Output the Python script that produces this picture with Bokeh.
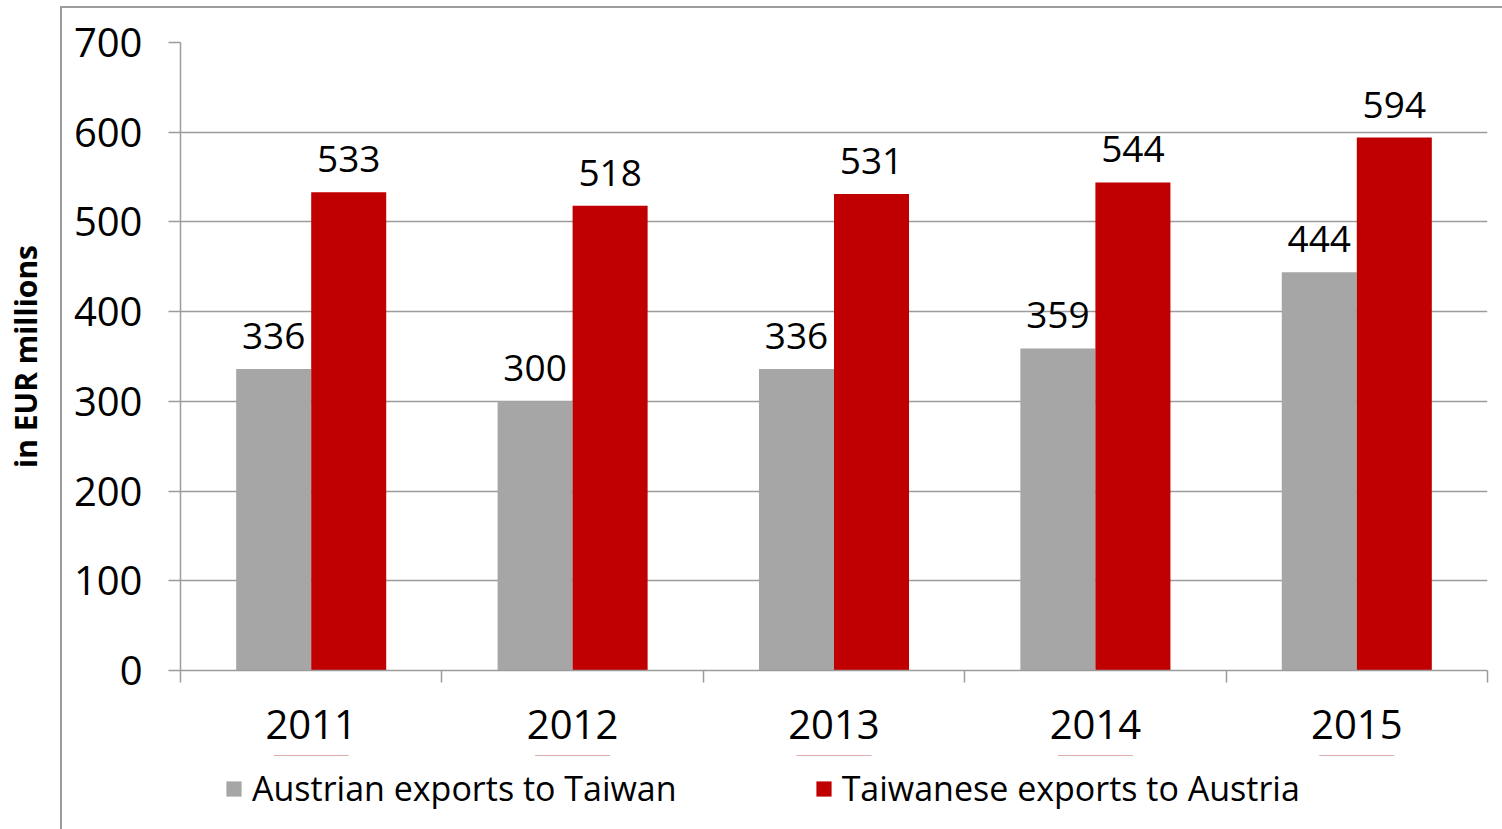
from bokeh.plotting import figure
from bokeh.layouts import column
from bokeh.models import (ColumnDataSource, FactorRange, Range1d, LinearAxis, FixedTicker,
                          Legend, LegendItem)
from bokeh.transform import dodge
from bokeh.core.properties import value
from bokeh.embed import file_html
from bokeh.resources import INLINE

years = ["2011", "2012", "2013", "2014", "2015"]
austrian = [336, 300, 336, 359, 444]
taiwanese = [533, 518, 531, 544, 594]
series_names = ["Austrian exports to Taiwan", "Taiwanese exports to Austria"]
y_ticks = [0, 100, 200, 300, 400, 500, 600, 700]
y_label = "in EUR millions"

FONT = "Open Sans"
GREY = "#A6A6A6"
RED = "#C00000"
LINE = "#9C9C9C"

src = ColumnDataSource(dict(
    year=years, austrian=austrian, taiwanese=taiwanese,
    a_lbl=[str(v) for v in austrian], t_lbl=[str(v) for v in taiwanese],
))

# ---------------- main chart ----------------
x_range = FactorRange(factors=years, range_padding=0)
p = figure(width=1502, height=755,
           x_range=x_range,
           y_range=Range1d(y_ticks[0], y_ticks[-1]),
           x_axis_location=None, y_axis_location="left",
           output_backend="svg", toolbar_location=None,
           min_border_left=180, min_border_right=15,
           min_border_top=42, min_border_bottom=85)
p.outline_line_color = None
p.background_fill_color = "white"
p.border_fill_color = None

bw = 0.287
r1 = p.vbar(x=dodge("year", -bw / 2, range=x_range), top="austrian", width=bw,
            source=src, fill_color=GREY, line_color=None)
r2 = p.vbar(x=dodge("year", bw / 2, range=x_range), top="taiwanese", width=bw,
            source=src, fill_color=RED, line_color=None)

for col, lbl, off in (("austrian", "a_lbl", -bw / 2), ("taiwanese", "t_lbl", bw / 2)):
    p.text(x=dodge("year", off, range=x_range), y=col, text=lbl, source=src,
           text_align="center", text_baseline="alphabetic", y_offset=-33,
           text_font=value(FONT), text_font_size="37px", text_color="black")

ya = p.yaxis[0]
ya.ticker = FixedTicker(ticks=y_ticks)
ya.axis_line_color = LINE
ya.axis_line_width = 1.5
ya.major_tick_line_color = LINE
ya.major_tick_line_width = 1.5
ya.major_tick_out = 12
ya.major_tick_in = 0
ya.minor_tick_line_color = None
ya.major_label_standoff = 26
ya.major_label_text_font = FONT
ya.major_label_text_font_size = "40px"
ya.major_label_text_color = "black"
ya.axis_label = y_label
ya.axis_label_text_font = FONT
ya.axis_label_text_font_size = "30px"
ya.axis_label_text_font_style = "bold"
ya.axis_label_text_color = "black"
ya.axis_label_standoff = 25

p.ygrid.ticker = FixedTicker(ticks=y_ticks)
p.ygrid.grid_line_color = LINE
p.ygrid.grid_line_width = 1.5
p.xgrid.grid_line_color = None

# x axis: ticks at category boundaries, labels at centers (synthetic factor coords)
xa = LinearAxis(ticker=FixedTicker(ticks=[i + 0.5 for i in range(len(years))],
                                   minor_ticks=list(range(len(years) + 1))),
                major_label_overrides={i + 0.5: y for i, y in enumerate(years)})
xa.axis_line_color = LINE
xa.axis_line_width = 1.5
xa.major_tick_line_color = None
xa.major_tick_out = 0
xa.major_tick_in = 0
xa.minor_tick_line_color = LINE
xa.minor_tick_line_width = 1.5
xa.minor_tick_out = 12
xa.minor_tick_in = 0
xa.major_label_standoff = 27
xa.major_label_text_font = FONT
xa.major_label_text_font_size = "40px"
xa.major_label_text_color = "black"
p.add_layout(xa, "below")

# ---------------- legend strip ----------------
# same series drawn in a strip whose y range hides the bars; only the legend shows
pl = figure(width=1502, height=74, x_range=x_range, y_range=Range1d(-2, -1),
            x_axis_location=None, y_axis_location=None,
            output_backend="svg", toolbar_location=None, min_border=0)
pl.outline_line_color = None
pl.background_fill_color = None
pl.border_fill_color = None
pl.xgrid.grid_line_color = None
pl.ygrid.grid_line_color = None
g1 = pl.vbar(x="year", top="austrian", width=bw, source=src,
             fill_color=GREY, line_color=None)
g2 = pl.vbar(x="year", top="taiwanese", width=bw, source=src,
             fill_color=RED, line_color=None)

legend = Legend(items=[LegendItem(label=series_names[0], renderers=[g1]),
                       LegendItem(label=series_names[1], renderers=[g2])],
                orientation="horizontal", location=(44, 18),
                glyph_width=19, glyph_height=19, label_standoff=9, spacing=137,
                padding=0, margin=0, border_line_color=None,
                background_fill_alpha=0,
                label_text_font=FONT, label_text_font_size="34px",
                label_text_color="black")
pl.add_layout(legend, "center")

# outer chart box: left and top edges (the others lie beyond the picture)
layout = column(p, pl, spacing=0, styles={
    "background-color": "white",
    "background-image": f"linear-gradient({LINE}, {LINE}), linear-gradient({LINE}, {LINE})",
    "background-size": "2px 100%, 100% 2px",
    "background-position": "60px 6px, 60px 6px",
    "background-repeat": "no-repeat",
})

open("out.html", "w").write(file_html(layout, INLINE))
